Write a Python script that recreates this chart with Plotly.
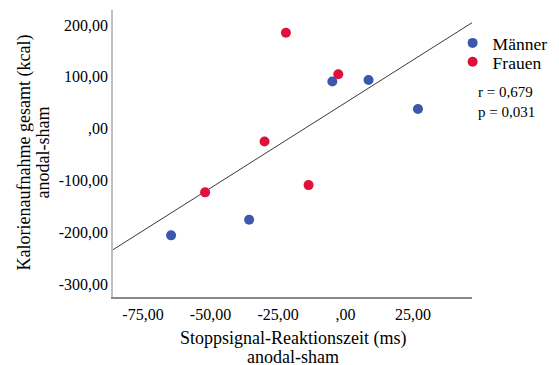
import numpy as np
import plotly.graph_objects as go

# Data
maenner_x = [-64.6, -35.7, -4.9, 8.5, 26.8]
maenner_y = [-206, -176, 91, 94, 38]
frauen_x = [-22.1, -2.7, -30.0, -52.0, -13.7]
frauen_y = [185, 105, -25, -123, -109]

x_tickvals = [-75, -50, -25, 0, 25]
x_ticktext = ["-75,00", "-50,00", "-25,00", ",00", "25,00"]
y_tickvals = [200, 100, 0, -100, -200, -300]
y_ticktext = ["200,00", "100,00", ",00", "-100,00", "-200,00", "-300,00"]

x_range = [-86.1, 46.8]
y_range = [-325, 229]

x_title = ["Stoppsignal-Reaktionszeit (ms)", "anodal-sham"]
y_title = ["Kalorienaufnahme gesamt (kcal)", "anodal-sham"]
stats_text = "r = 0,679<br>p = 0,031"

# total regression line
all_x = np.array(maenner_x + frauen_x)
all_y = np.array(maenner_y + frauen_y)
slope, intercept = np.polyfit(all_x, all_y, 1)
line_x = np.array(x_range)
line_y = slope * line_x + intercept

FONT = "Liberation Serif, Times New Roman, DejaVu Serif, serif"

fig = go.Figure()
fig.add_trace(go.Scatter(x=line_x, y=line_y, mode="lines",
                         line=dict(color="#3a3a3a", width=1), showlegend=False,
                         hoverinfo="skip"))
fig.add_trace(go.Scatter(x=maenner_x, y=maenner_y, mode="markers", name="Männer",
                         marker=dict(color="#3d57ad", size=10), legend="legend"))
fig.add_trace(go.Scatter(x=frauen_x, y=frauen_y, mode="markers", name="Frauen",
                         marker=dict(color="#e0103a", size=10), legend="legend2"))

legend_common = dict(xanchor="left", yanchor="middle", xref="paper", yref="paper",
                     font=dict(family=FONT, size=17.5, color="black"),
                     bgcolor="rgba(0,0,0,0)", itemwidth=30, borderwidth=0)

title_font = dict(family=FONT, size=18, color="black")

fig.update_layout(
    width=551, height=357,
    margin=dict(l=105, r=87, t=2, b=68, autoexpand=False),
    paper_bgcolor="white", plot_bgcolor="white",
    font=dict(family=FONT, color="black", size=16),
    showlegend=True,
    legend=dict(x=0.946, y=0.885, **legend_common),
    legend2=dict(x=0.946, y=0.819, **legend_common),
    xaxis=dict(range=x_range, tickvals=x_tickvals, ticktext=x_ticktext,
               showgrid=False, zeroline=False, showline=True, automargin=False,
               linecolor="#8a8a8a", linewidth=1.5, ticks="", ticklabelstandoff=2,
               tickfont=dict(family=FONT, size=16)),
    yaxis=dict(range=y_range, tickvals=y_tickvals, ticktext=y_ticktext,
               showgrid=False, zeroline=False, showline=True, automargin=False,
               linecolor="#c0c0c0", linewidth=1.5, ticks="",
               tickfont=dict(family=FONT, size=16)),
    annotations=[
        dict(text=x_title[0], xref="paper", yref="paper", x=0.5, y=-0.1429,
             xanchor="center", yanchor="middle", height=19, valign="middle",
             showarrow=False, font=title_font),
        dict(text=x_title[1], xref="paper", yref="paper", x=0.5, y=-0.206,
             xanchor="center", yanchor="middle", height=19, valign="middle",
             showarrow=False, font=title_font),
        dict(text=y_title[0], xref="paper", yref="paper", x=-0.2479, y=0.5035,
             xanchor="center", yanchor="middle", textangle=-90, height=19,
             valign="middle", showarrow=False, font=title_font),
        dict(text=y_title[1], xref="paper", yref="paper", x=-0.195, y=0.5035,
             xanchor="center", yanchor="middle", textangle=-90, height=19,
             valign="middle", showarrow=False, font=title_font),
        dict(text=stats_text, xref="paper", yref="paper", x=1.0111, y=0.681,
             xanchor="left", yanchor="middle", showarrow=False, align="left",
             font=dict(family=FONT, size=15, color="black")),
    ],
)

fig.write_html("out.html")
